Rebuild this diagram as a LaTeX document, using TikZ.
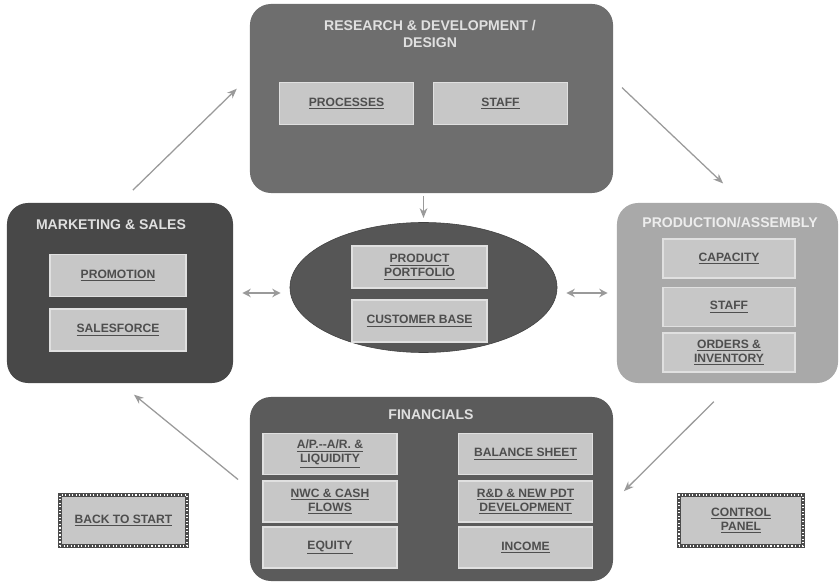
\documentclass[tikz,border=0pt]{standalone}
\usepackage{fontspec}
\setmainfont{Liberation Sans}
\usetikzlibrary{arrows.meta,shapes.geometric}

\definecolor{rdgray}{HTML}{6E6E6E}
\definecolor{mkgray}{HTML}{484848}
\definecolor{prgray}{HTML}{A9A9A9}
\definecolor{fingray}{HTML}{5B5B5B}
\definecolor{ellgray}{HTML}{565656}
\definecolor{cellgray}{HTML}{C7C7C7}
\definecolor{inkgray}{HTML}{4E4E4E}
\definecolor{arrgray}{HTML}{9A9A9A}

\begin{document}
\begin{tikzpicture}[x=0.025cm, y=-0.025cm,
    area/.style={rounded corners=15pt, minimum width=9.075cm, minimum height=4.725cm},
    cell/.style={draw=white!88!black, line width=1.3pt, fill=cellgray, minimum width=3.35cm,
                 minimum height=1.05cm, inner sep=1pt, align=center, text=inkgray,
                 font=\fontsize{8.6}{10}\selectfont\bfseries},
    title/.style={align=center, text=white!88!black, font=\fontsize{10}{11.5}\selectfont\bfseries},
    button/.style={draw=black!70, line width=3pt, fill=cellgray, minimum height=1.275cm,
                   align=center, text=inkgray, font=\fontsize{8.6}{10}\selectfont\bfseries,
                   postaction={draw=white, line width=0.8pt, dash pattern=on 0.8pt off 1.7pt}},
    arr/.style={-{Stealth[length=7pt, width=5.5pt]}, line width=0.9pt, arrgray},
    darr/.style={{Stealth[length=6pt, width=6pt]}-{Stealth[length=6pt, width=6pt]}, line width=1.8pt, arrgray},
]
\useasboundingbox (0,0) rectangle (840,582);

% Top: research & development
\node[area, fill=rdgray] (rd) at (431.5, 98.5) {};
\node[title] (rdtitle) at (430, 34) {RESEARCH \& DEVELOPMENT /\\DESIGN};
\node[cell] (proc) at (346.5, 103.5) {\underline{PROCESSES}};
\node[cell] (rdstaff) at (500.5, 103.5) {\underline{STAFF}};

% Left: marketing & sales
\node[area, fill=mkgray, minimum width=5.65cm, minimum height=4.5cm] (mk) at (120, 293) {};
\node[title] (mktitle) at (111, 225) {MARKETING \& SALES};
\node[cell, minimum width=3.4cm] (promo) at (118, 275.5) {\underline{PROMOTION}};
\node[cell, minimum width=3.4cm] (sales) at (118, 330) {\underline{SALESFORCE}};

% Right: production / assembly
\node[area, fill=prgray, minimum width=5.525cm, minimum height=4.5cm] (pr) at (727.5, 293) {};
\node[title, text=white!93!black] (prtitle) at (730, 223) {PRODUCTION/ASSEMBLY};
\node[cell, minimum width=3.3cm, minimum height=0.975cm] (cap) at (729, 258.5) {\underline{CAPACITY}};
\node[cell, minimum width=3.3cm, minimum height=0.975cm] (prstaff) at (729, 307) {\underline{STAFF}};
\node[cell, minimum width=3.3cm, minimum height=0.975cm] (orders) at (729, 352.5) {\underline{ORDERS \&}\\\underline{INVENTORY}};

% Centre: product / customer ellipse
\node[ellipse, draw=black!75, fill=ellgray, minimum width=6.675cm, minimum height=3.25cm] (ell) at (423.5, 287.5) {};
\node[cell, minimum width=3.375cm] (prod) at (419.5, 267) {\underline{PRODUCT}\\\underline{PORTFOLIO}};
\node[cell, minimum width=3.375cm] (cust) at (419.5, 321) {\underline{CUSTOMER BASE}};

% Bottom: financials
\node[area, fill=fingray, minimum height=4.6cm] (fin) at (431.5, 489) {};
\node[title] (fintitle) at (431, 415) {FINANCIALS};
\node[cell, minimum height=1.025cm] (apar) at (330, 454) {\underline{A/P.-{}-A/R. \&}\\\underline{LIQUIDITY}};
\node[cell, minimum height=1.025cm] (nwc) at (330, 501.5) {\underline{NWC \& CASH}\\\underline{FLOWS}};
\node[cell, minimum height=1.025cm] (equity) at (330, 547.5) {\underline{EQUITY}};
\node[cell, minimum height=1.025cm] (bal) at (525.5, 454) {\underline{BALANCE SHEET}};
\node[cell, minimum height=1.025cm] (rdnew) at (525.5, 501.5) {\underline{R\&D \& NEW PDT}\\\underline{DEVELOPMENT}};
\node[cell, minimum height=1.025cm] (income) at (525.5, 547.5) {\underline{INCOME}};

% Navigation buttons
\node[button, minimum width=3.175cm] (back) at (123.5, 520.5) {\underline{BACK TO START}};
\node[button, minimum width=3.1cm] (ctrl) at (741, 520.5) {\underline{CONTROL}\\\underline{PANEL}};

% Cycle arrows
\draw[arr, shorten <=18pt*0.711, shorten >=18pt*0.711] (mk.north) -- (rd.173);
\draw[arr, shorten <=12pt*0.711, shorten >=28pt*0.711] (rd.6) -- (pr.80);
\draw[arr, shorten <=26pt*0.711, shorten >=15pt*0.711] (pr.-87) -- (fin.-4);
\draw[arr, shorten <=15pt*0.711, shorten >=18pt*0.711] (fin.west) -- (mk.south);
\draw[arr, shorten <=2pt, shorten >=3pt] (ell.north |- rd.south) -- (ell.north);

% Links to the centre
\draw[darr, shorten <=9pt*0.711, shorten >=9pt*0.711] (mk.east) -- (mk.east -| ell.west);
\draw[darr, shorten <=9pt*0.711, shorten >=9pt*0.711] (ell.east |- pr.west) -- (pr.west);
\end{tikzpicture}
\end{document}
